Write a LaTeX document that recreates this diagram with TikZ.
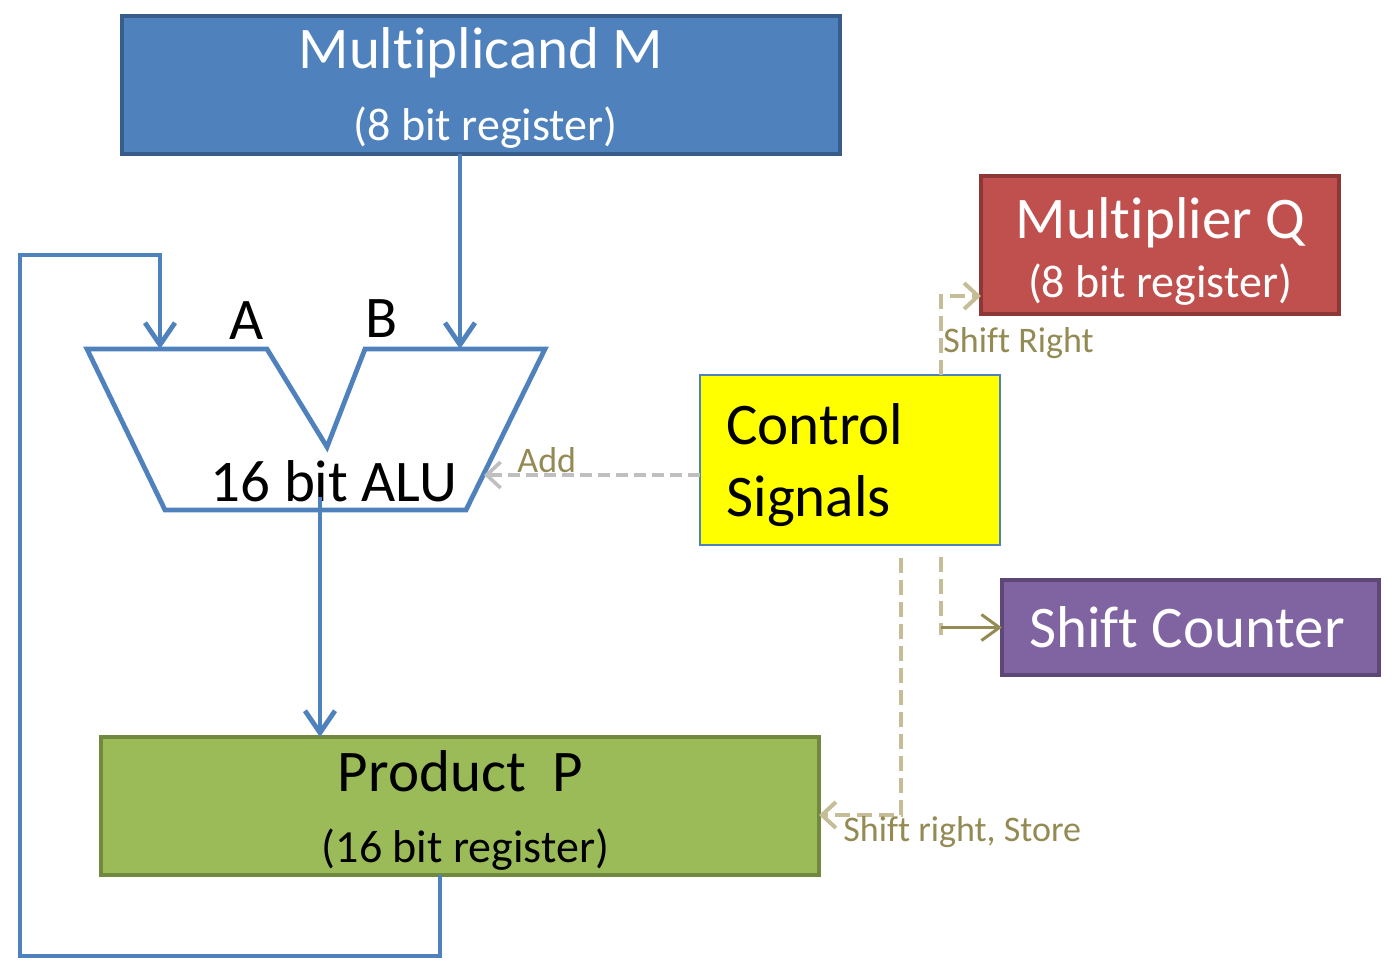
\documentclass[tikz,border=0pt]{standalone}
\usepackage{fontspec}
\setmainfont{Carlito}[Ligatures=NoCommon]
\usetikzlibrary{arrows.meta}
\definecolor{mblue}{HTML}{4F81BD}
\definecolor{mblueD}{HTML}{385D8A}
\definecolor{qred}{HTML}{C0504D}
\definecolor{qredD}{HTML}{8C3836}
\definecolor{cpurple}{HTML}{8064A2}
\definecolor{cpurpleD}{HTML}{5C4776}
\definecolor{pgreen}{HTML}{9BBB59}
\definecolor{pgreenD}{HTML}{71893F}
\definecolor{olivetxt}{HTML}{948A54}
\definecolor{tan}{HTML}{C4BD97}
\definecolor{lgray}{HTML}{BFBFBF}
\definecolor{pureyellow}{RGB}{255,255,0}
\tikzset{
  regbox/.style={rectangle, inner sep=0pt, outer sep=0pt, line width=2.3pt},
  bigtxt/.style={inner sep=0pt, anchor=base, font=\fontsize{29.5}{35}\selectfont},
  regtxt/.style={inner sep=0pt, anchor=base, font=\fontsize{23}{28}\selectfont},
  lbltxt/.style={inner sep=0pt, anchor=base west, text=olivetxt, font=\fontsize{18}{22}\selectfont},
  blueline/.style={draw=mblue, line width=2.4pt},
  bluearrow/.style={blueline, -{Straight Barb[length=11pt,width=15pt,line width=2.4pt]}},
  tandash/.style={draw=tan, line width=2pt, dash pattern=on 7.5pt off 3.5pt},
  tanarrow/.style={tandash, -{Straight Barb[length=7pt,width=13pt,line width=2pt]}},
  grayarrow/.style={draw=lgray, line width=1.8pt, dash pattern=on 6pt off 3pt, -{Straight Barb[length=7pt,width=13pt,line width=1.8pt]}},
  olivearrow/.style={draw=olivetxt, line width=1.5pt, -{Straight Barb[length=9pt,width=13pt,line width=1.5pt]}},
}
\begin{document}
\begin{tikzpicture}[x=0.5pt,y=-0.5pt]
\useasboundingbox (0,0) rectangle (1396,964);
% boxes
\node[regbox, fill=mblue, draw=mblueD, minimum width=359pt, minimum height=69pt] (M) at (481,85) {};
\node[regbox, fill=qred, draw=qredD, minimum width=179pt, minimum height=69pt] (Q) at (1160,245) {};
\node[regbox, fill=pureyellow, draw=mblue, line width=1pt, minimum width=150pt, minimum height=85pt] (C) at (850,460) {};
\node[regbox, fill=cpurple, draw=cpurpleD, minimum width=188.5pt, minimum height=47.5pt] (SC) at (1190.5,627.5) {};
\node[regbox, fill=pgreen, draw=pgreenD, minimum width=359pt, minimum height=69pt] (P) at (460,806) {};
% ALU
\coordinate (alu1) at (87,349);
\coordinate (alu2) at (267,349);
\coordinate (alu3) at (327,447);
\coordinate (alu4) at (365,349);
\coordinate (alu5) at (545,349);
\coordinate (alu6) at (466,510);
\coordinate (alu7) at (165,510);
\draw[blueline, line join=miter] (alu1) -- (alu2) -- (alu3) -- (alu4) -- (alu5) -- (alu6) -- (alu7) -- cycle;
\coordinate (aluA) at (160,349);
\coordinate (aluB) at (460,349);
\coordinate (aluOut) at (320,497);
\coordinate (aluR) at (484,475);
% texts
\node[bigtxt, text=white] (tM1) at (481,68) {Multiplicand M};
\node[regtxt, text=white] (tM2) at (485.5,140) {(8 bit register)};
\node[bigtxt, text=white] (tQ1) at (1160.5,238) {Multiplier Q};
\node[regtxt, text=white] (tQ2) at (1160,297) {(8 bit register)};
\node[bigtxt, anchor=base west] (tC1) at (726,444) {Control};
\node[bigtxt, anchor=base west] (tC2) at (726,516) {Signals};
\node[bigtxt, text=white] (tSC) at (1187,647) {Shift Counter};
\node[bigtxt] (tP1) at (460.5,791) {Product~~P};
\node[regtxt] (tP2) at (465.5,862) {(16 bit register)};
\node[bigtxt] (tALU) at (334,501) {16 bit ALU};
\node[bigtxt] (tA) at (247,339) {A};
\node[bigtxt] (tB) at (382,337) {B};
% connectors
\draw[bluearrow] (M.south -| aluB) -- (aluB);
\draw[bluearrow] (aluOut) -- (P.north -| aluOut);
\coordinate (f1) at (440,956);
\coordinate (f2) at (20,956);
\coordinate (f3) at (20,255);
\coordinate (f4) at (160,255);
\draw[bluearrow, line join=miter] (P.south -| f1) -- (f1) -- (f2) -- (f3) -- (f4) -- (aluA);
\draw[grayarrow] (C.west |- aluR) -- (aluR);
\coordinate (sr) at (941,296);
\draw[tanarrow] (C.north -| sr) |- (Q.west |- sr);
\coordinate (sc1) at (941,557);
\coordinate (sc2) at (941,635);
\draw[tandash] (sc1) -- (sc2);
\draw[olivearrow] (sc2 |- SC.west) -- (SC.west);
\coordinate (ps1) at (901,558);
\coordinate (ps2) at (901,815);
\draw[tanarrow] (ps1) -- (ps2) -- (P.east |- ps2);
% labels
\node[lbltxt] (lAdd) at (517,472) {Add};
\node[lbltxt] (lSR) at (943,352) {Shift Right};
\node[lbltxt] (lSRS) at (843,841) {Shift right, Store};
\end{tikzpicture}
\end{document}
